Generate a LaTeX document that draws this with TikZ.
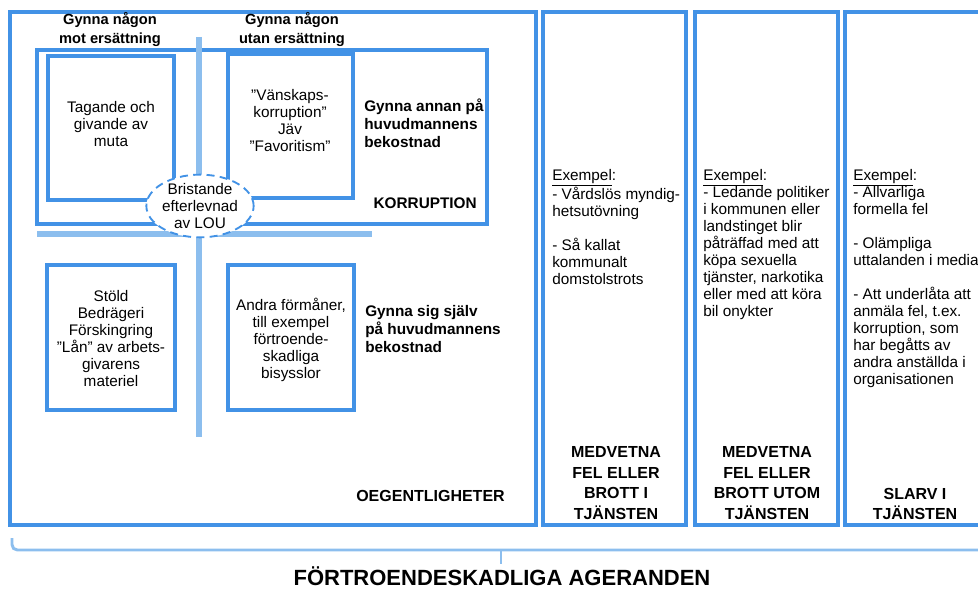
\documentclass[tikz,border=0pt]{standalone}
\usepackage{fontspec}
\setmainfont{Liberation Sans}
\usetikzlibrary{shapes.geometric}

\definecolor{boxblue}{RGB}{66,146,230}
\definecolor{barblue}{RGB}{140,190,238}

\tikzset{
  frame/.style={draw=boxblue, line width=2.3pt},
  bar/.style={draw=barblue, line width=4.2pt},
  brace/.style={draw=barblue, line width=2.2pt, rounded corners=4pt},
  body/.style={inner sep=0.75pt, align=center, font=\fontsize{11.5}{12.75}\selectfont},
  note/.style={inner sep=0.75pt, align=left, font=\fontsize{11.5}{12.75}\selectfont},
  head/.style={inner sep=0.75pt, align=left, font=\bfseries\fontsize{11.5}{13.5}\selectfont},
  caps/.style={inner sep=0.75pt, align=center, font=\bfseries\fontsize{12}{15.5}\selectfont},
}

\begin{document}
\begin{tikzpicture}[x=0.75pt,y=0.75pt,yscale=-1,xscale=1]
\useasboundingbox (0,0) rectangle (978,591);

%Shape: Rectangle (oegentligheter)
\draw [frame] (10,12) rectangle (536,525) ;
%Shape: Rectangle (korruption)
\draw [frame] (37,50) rectangle (487,224) ;
%Shape: Rectangle
\draw [frame] (48,56) rectangle (174,200) ;
%Shape: Rectangle
\draw [frame] (228,54) rectangle (353,198) ;
%Shape: Rectangle
\draw [frame] (47,265) rectangle (175,410) ;
%Shape: Rectangle
\draw [frame] (228,265) rectangle (354,410) ;
%Shape: Rectangle (columns)
\draw [frame] (543,12) rectangle (686,525) ;
\draw [frame] (695,12) rectangle (838,525) ;
\draw [frame] (845,12) rectangle (995,525) ;

%Straight Lines (cross)
\draw [bar] (199,37) -- (199,437) ;
\draw [bar] (37,234) -- (372,234) ;

%Brace
\draw [brace] (12,538) -- (12,550) -- (990,550) ;
\draw [brace] (501,550) -- (501,564) ;

% Text Node
\node [ellipse, draw=boxblue, line width=1.4pt, dash pattern=on 6pt off 4pt, fill=white, minimum width=78pt, minimum height=41pt, inner sep=0pt, align=center, font=\fontsize{11.5}{12.4}\selectfont] (lou) at (200,206) {Bristande\\efterlevnad\\av LOU};

% Text Node
\node [head, align=center, font=\bfseries\fontsize{11}{14.25}\selectfont] (motErs) at (110,29.5) {Gynna någon\\mot ersättning};
% Text Node
\node [head, align=center, font=\bfseries\fontsize{11}{14.25}\selectfont] (utanErs) at (292,29.5) {Gynna någon\\utan ersättning};
% Text Node
\node [body] (muta) at (111,124) {Tagande och\\givande av\\muta};
% Text Node
\node [body] (vanskap) at (290,120.5) {”Vänskaps-\\korruption”\\Jäv\\”Favoritism”};
% Text Node
\node [head, anchor=west] (annan) at (363,123.5) {Gynna annan på\\huvudmannens\\bekostnad};
% Text Node
\node [head, anchor=east, font=\bfseries\fontsize{11.5}{13.5}\selectfont] (korr) at (478,203) {KORRUPTION};
% Text Node
\node [body] (stold) at (111,338.5) {Stöld\\Bedrägeri\\Förskingring\\”Lån” av arbets-\\givarens\\materiel};
% Text Node
\node [body] (formaner) at (291,340) {Andra förmåner,\\till exempel\\förtroende-\\skadliga\\bisysslor};
% Text Node
\node [head, anchor=west] (sjalv) at (364,329) {Gynna sig själv\\på huvudmannens\\bekostnad};
% Text Node
\node [head, anchor=east, font=\bfseries\fontsize{12}{14}\selectfont] (oeg) at (506,496) {OEGENTLIGHETER};

% Text Node
\node [note, anchor=north west] (exI) at (551,168) {\underline{Exempel}:\\- Vårdslös myndig-\\hetsutövning\\[12.75pt]- Så kallat\\kommunalt\\domstolstrots};
% Text Node
\node [note, anchor=north west] (exUtom) at (702,168) {\underline{Exempel}:\\- Ledande politiker\\i kommunen eller\\landstinget blir\\påträffad med att\\köpa sexuella\\tjänster, narkotika\\eller med att köra\\bil onykter};
% Text Node
\node [note, anchor=north west] (exSlarv) at (852,168) {\underline{Exempel}:\\- Allvarliga\\formella fel\\[12.75pt]- Olämpliga\\uttalanden i media\\[12.75pt]- Att underlåta att\\anmäla fel, t.ex.\\korruption, som\\har begåtts av\\andra anställda i\\organisationen};

% Text Node
\node [caps] (brottI) at (616,483) {MEDVETNA\\FEL ELLER\\BROTT I\\TJÄNSTEN};
% Text Node
\node [caps] (brottUtom) at (767,483) {MEDVETNA\\FEL ELLER\\BROTT UTOM\\TJÄNSTEN};
% Text Node
\node [caps] (slarv) at (915,504) {SLARV I\\TJÄNSTEN};

% Text Node
\node [inner sep=0.75pt, font=\bfseries\fontsize{16.5}{18}\selectfont] (ageranden) at (502,576) {FÖRTROENDESKADLIGA AGERANDEN};

\end{tikzpicture}
\end{document}
